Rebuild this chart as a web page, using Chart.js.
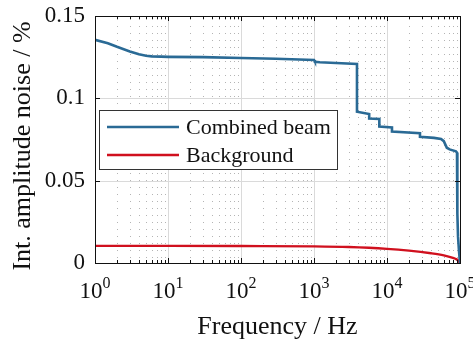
<!DOCTYPE html>
<html>
<head>
<meta charset="utf-8">
<script src="https://cdn.jsdelivr.net/npm/chart.js@4.4.0/dist/chart.umd.min.js"></script>
<style>
    html, body { margin: 0; padding: 0; background: #fff; }
    #wrap { width: 473px; height: 344px; }
</style>
</head>
<body>
<div id="wrap"><canvas id="noiseChart"></canvas></div>
<script>
// frequency (Hz) and integrated noise (%)
const beamFreq = [1, 1.5, 2, 3, 4, 5, 6, 8, 10, 30, 100, 300, 1000, 1030, 1200, 2000, 3880,
    3880, 5700, 5700, 7850, 7850, 11700, 11700, 28300, 28300, 44000, 55000, 60000, 66000,
    72000, 88000, 91000, 92000, 94000, 97000, 100000];
const beamNoise = [0.1355, 0.1335, 0.1313, 0.1285, 0.1268, 0.1259, 0.1255, 0.1253, 0.1252,
    0.125, 0.1245, 0.124, 0.1233, 0.1222, 0.1219, 0.1215, 0.1209,
    0.0919, 0.0905, 0.0877, 0.0875, 0.0828, 0.0823, 0.0798, 0.0788, 0.0766, 0.0760,
    0.0753, 0.0740, 0.0700, 0.0690, 0.0678, 0.0670, 0.030, 0.016, 0.007, 0];

const bgFreq = [1, 10, 100, 1000, 3000, 10000, 20000, 40000, 60000, 80000, 90000, 95000, 100000];
const bgNoise = [0.0104, 0.0104, 0.0103, 0.0101, 0.0097, 0.0086, 0.0075, 0.0059, 0.0046,
    0.0031, 0.0022, 0.0013, 0];

const seriesNames = ['Combined beam', 'Background'];
const xTickExps = [0, 1, 2, 3, 4, 5];
const yTickValues = [0, 0.05, 0.1, 0.15];

const serif = '"Liberation Serif", "Times New Roman", serif';
const blue = '#2a6a95';
const red = '#d0101e';

function toPoints(xs, ys){
    return xs.map((v, i) => ({x: v, y: ys[i]}));
}

function line(ctx, x1, y1, x2, y2){
    ctx.beginPath();
    ctx.moveTo(x1, y1);
    ctx.lineTo(x2, y2);
    ctx.stroke();
}

const framePlugin = {
    id: 'frame',
    beforeDatasetsDraw(chart){
        const {ctx, chartArea: a, scales: {x, y}} = chart;
        ctx.save();
        ctx.lineWidth = 1;
        // minor dotted grid
        ctx.strokeStyle = '#b4b4b4';
        ctx.setLineDash([1, 6]);
        for(let d = 0; d < xTickExps.length - 1; d++){
            for(let m = 2; m < 10; m++){
                const px = Math.round(x.getPixelForValue(m * Math.pow(10, d))) + 0.5;
                line(ctx, px, a.top + 3, px, a.bottom);
            }
        }
        ctx.setLineDash([]);
        ctx.strokeStyle = '#dadada';
        xTickExps.forEach(e => {
            const px = Math.round(x.getPixelForValue(Math.pow(10, e))) + 0.5;
            line(ctx, px, a.top, px, a.bottom);
        });
        yTickValues.forEach(v => {
            const py = Math.round(y.getPixelForValue(v)) + 0.5;
            line(ctx, a.left, py, a.right, py);
        });
        ctx.restore();
    },
    afterDatasetsDraw(chart){
        const {ctx, chartArea: a, scales: {x, y}} = chart;
        ctx.save();
        ctx.strokeStyle = '#111';
        ctx.lineWidth = 1;
        // inward ticks
        for(let d = 0; d < xTickExps.length - 1; d++){
            for(let m = 2; m < 10; m++){
                const px = Math.round(x.getPixelForValue(m * Math.pow(10, d))) + 0.5;
                line(ctx, px, a.bottom, px, a.bottom - 3);
                line(ctx, px, a.top, px, a.top + 3);
            }
        }
        xTickExps.forEach(e => {
            const px = Math.round(x.getPixelForValue(Math.pow(10, e))) + 0.5;
            line(ctx, px, a.bottom, px, a.bottom - 5);
            line(ctx, px, a.top, px, a.top + 5);
        });
        yTickValues.forEach(v => {
            const py = Math.round(y.getPixelForValue(v)) + 0.5;
            line(ctx, a.left, py, a.left + 5, py);
            line(ctx, a.right, py, a.right - 5, py);
        });
        ctx.strokeRect(Math.round(a.left) + 0.5, Math.round(a.top) + 0.5,
            Math.round(a.right - a.left), Math.round(a.bottom - a.top));

        // legend box
        const lx = 99.5, ly = 110.5, lw = 238, lh = 59;
        ctx.fillStyle = '#fff';
        ctx.fillRect(lx, ly, lw, lh);
        ctx.strokeStyle = '#333';
        ctx.strokeRect(lx, ly, lw, lh);
        ctx.font = '22px ' + serif;
        ctx.textBaseline = 'middle';
        ctx.textAlign = 'left';
        chart.data.datasets.forEach((ds, i) => {
            const rowY = 127 + i * 28;
            ctx.strokeStyle = ds.borderColor;
            ctx.lineWidth = 2.5;
            line(ctx, 107, rowY, 179, rowY);
            ctx.fillStyle = '#111';
            ctx.fillText(ds.label, 186, rowY + 1);
        });
        ctx.restore();
    },
    afterDraw(chart){
        const {ctx, chartArea: a, scales: {x}} = chart;
        ctx.save();
        ctx.fillStyle = '#111';
        ctx.textBaseline = 'alphabetic';
        ctx.textAlign = 'left';
        // x tick labels 10^n
        xTickExps.forEach(e => {
            const px = x.getPixelForValue(Math.pow(10, e));
            ctx.font = '23px ' + serif;
            const wBase = ctx.measureText('10').width;
            ctx.font = '16px ' + serif;
            const wExp = ctx.measureText(String(e)).width;
            const start = px - (wBase + wExp) / 2;
            ctx.font = '23px ' + serif;
            ctx.fillText('10', start, 298);
            ctx.font = '16px ' + serif;
            ctx.fillText(String(e), start + wBase, 288);
        });
        // axis titles
        ctx.font = '26px ' + serif;
        ctx.textAlign = 'center';
        ctx.fillText('Frequency / Hz', (a.left + a.right) / 2, 334);
        ctx.translate(30, 146);
        ctx.rotate(-Math.PI / 2);
        ctx.fillText('Int. amplitude noise / %', 0, 0);
        ctx.restore();
    }
};

function noPad(scale){
    scale.paddingTop = 0;
    scale.paddingBottom = 0;
    scale.paddingLeft = 0;
    scale.paddingRight = 0;
}

function createNoiseChart(){
    const canvas = document.getElementById('noiseChart');
    new Chart(canvas, {
        type: 'line',
        data: {
            datasets: [{
                label: seriesNames[0],
                data: toPoints(beamFreq, beamNoise),
                borderColor: blue,
                borderWidth: 2.6,
                pointRadius: 0,
                tension: 0
            }, {
                label: seriesNames[1],
                data: toPoints(bgFreq, bgNoise),
                borderColor: red,
                borderWidth: 2.4,
                pointRadius: 0,
                cubicInterpolationMode: 'monotone'
            }]
        },
        options: {
            responsive: true,
            maintainAspectRatio: false,
            animation: false,
            layout: {
                padding: {top: 16, right: 13, left: 0, bottom: 0}
            },
            plugins: {
                legend: {display: false},
                tooltip: {enabled: false}
            },
            scales: {
                x: {
                    type: 'logarithmic',
                    min: 1,
                    max: 100000,
                    grid: {display: false},
                    border: {display: false},
                    ticks: {display: false},
                    afterFit: (scale) => { scale.height = 81; noPad(scale); }
                },
                y: {
                    min: 0,
                    max: 0.15,
                    grid: {display: false, drawTicks: false},
                    border: {display: false},
                    ticks: {
                        stepSize: 0.05,
                        padding: 10,
                        color: '#111',
                        font: {family: serif, size: 23},
                        callback: (v) => String(+v.toFixed(2))
                    },
                    afterFit: (scale) => { scale.width = 95; noPad(scale); }
                }
            }
        },
        plugins: [framePlugin]
    });
}

document.addEventListener('DOMContentLoaded', createNoiseChart);
</script>
</body>
</html>
